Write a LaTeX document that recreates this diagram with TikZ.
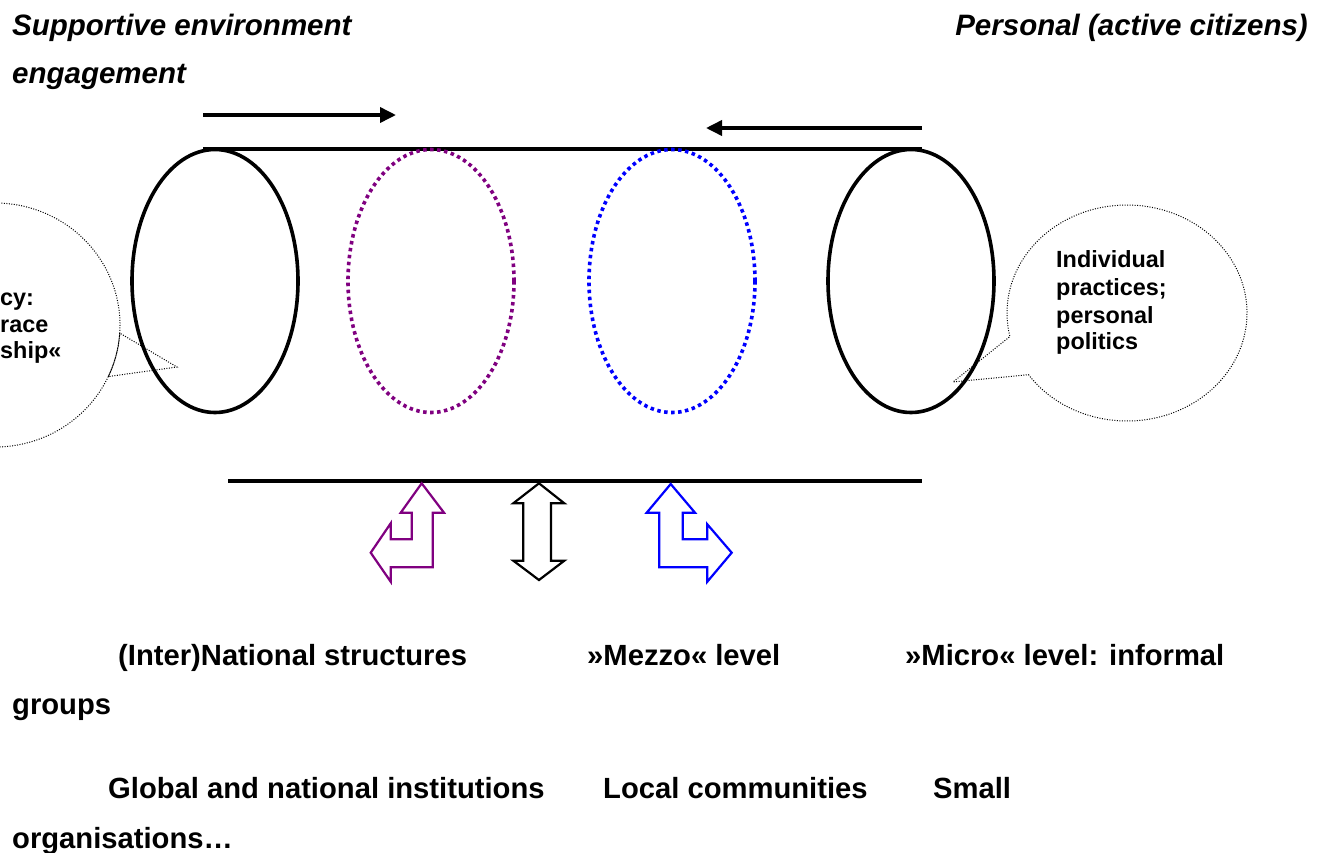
\documentclass[tikz,border=0pt]{standalone}
\usepackage{fontspec}
\setmainfont{Liberation Sans}
\usetikzlibrary{shapes.geometric,arrows.meta}
\definecolor{mypurple}{HTML}{800080}
\definecolor{myblue}{HTML}{0000FF}
\begin{document}
\begin{tikzpicture}[x=1pt,y=1pt,
  big/.style={font=\fontsize{29.2}{34}\selectfont\bfseries, inner sep=0pt, anchor=base west},
  hdr/.style={font=\fontsize{29.5}{34}\selectfont\bfseries\itshape, inner sep=0pt},
  bub/.style={font=\fontsize{23.4}{27.5}\selectfont\bfseries, inner sep=0pt, anchor=base west},
  ring/.style={ellipse, draw, line width=3.6pt, minimum width=166pt, minimum height=263pt, inner sep=0pt},
  dring/.style={ring, dash pattern=on 3.5pt off 3.5pt},
  flow/.style={line width=3.6pt, -{Triangle[length=16pt,width=15pt]}},
  bubble/.style={draw, line width=1pt, dash pattern=on 1pt off 1.5pt},
  blockarrow/.style={draw, line width=2.2pt, line join=miter}
]
\clip (0,0) rectangle (1328,-852);
\fill[white] (0,0) rectangle (1328,-852);

% headers
\node[hdr, anchor=base west] (h1) at (12,-35) {Supportive environment};
\node[hdr, anchor=base west] (h2) at (12,-83) {engagement};
\node[hdr, anchor=base east] (h3) at (1308,-35) {Personal (active citizens)};

% top flow arrows
\coordinate (a1s) at (203,-115);
\coordinate (a1e) at (396,-115);
\coordinate (a2s) at (922,-128);
\coordinate (a2e) at (706,-128);
\draw[flow] (a1s) -- (a1e);
\draw[flow] (a2s) -- (a2e);

% cylinder lines
\coordinate (t1) at (203,-149);
\coordinate (t2) at (922,-149);
\coordinate (b1) at (228,-481);
\coordinate (b2) at (922,-481);
\draw[line width=3.6pt] (t1) -- (t2);
\draw[line width=3.6pt] (b1) -- (b2);

% rings
\node[ring] (e1) at (215,-281) {};
\node[dring, draw=mypurple] (e2) at (431,-281) {};
\node[dring, draw=myblue] (e3) at (672,-281) {};
\node[ring] (e4) at (911,-281) {};

% left callout
\draw[bubble] (-5,-325) ++(-25:125 and 122)
  arc[start angle=-25, end angle=356.2, x radius=125, y radius=122]
  -- (177,-367) -- cycle;
\node[bub] (l1) at (0,-305) {cy:};
\node[bub] (l2) at (0,-332) {race};
\node[bub] (l3) at (0,-358) {ship«};

% right callout
\draw[bubble] (1127,-313) ++(214.8:120 and 108)
  arc[start angle=214.8, end angle=552.6, x radius=120, y radius=108]
  -- (953,-382) -- cycle;
\node[bub] (r1) at (1056,-267) {Individual};
\node[bub] (r2) at (1056,-295) {practices;};
\node[bub] (r3) at (1056,-323) {personal};
\node[bub] (r4) at (1056,-349) {politics};

% block arrows
\draw[blockarrow, draw=mypurple] (421.7,-483.3) -- (444,-512.7) -- (432.7,-512.7) -- (432.7,-567.3)
  -- (390.7,-567.3) -- (390.7,-581.7) -- (370.7,-552.7) -- (390.7,-523.3) -- (390.7,-539.3)
  -- (411.7,-539.3) -- (411.7,-512.7) -- (400.7,-512.7) -- cycle;
\draw[blockarrow, draw=black] (539,-483.3) -- (564.3,-503.3) -- (551,-503.3) -- (551,-560.7)
  -- (564.3,-560.7) -- (539,-580) -- (513.3,-560.7) -- (523.3,-560.7) -- (523.3,-503.3)
  -- (513.3,-503.3) -- cycle;
\draw[blockarrow, draw=myblue] (670.7,-484) -- (695,-512.7) -- (682.7,-512.7) -- (682.7,-539.3)
  -- (707.3,-539.3) -- (707.3,-524.3) -- (731.7,-552.7) -- (707.3,-581.7) -- (707.3,-567.3)
  -- (659.3,-567.3) -- (659.3,-512.7) -- (646.7,-512.7) -- cycle;

% bottom labels
\node[big] (n1) at (118,-665) {(Inter)National structures};
\node[big] (n2) at (587,-665) {»Mezzo« level};
\node[big] (n3) at (905,-665) {»Micro« level: informal};
\node[big] (n4) at (12,-714) {groups};
\node[big] (n5) at (108,-798) {Global and national institutions};
\node[big] (n6) at (603,-798) {Local communities};
\node[big] (n7) at (933,-798) {Small};
\node[big] (n8) at (12,-848) {organisations…};
\end{tikzpicture}
\end{document}
